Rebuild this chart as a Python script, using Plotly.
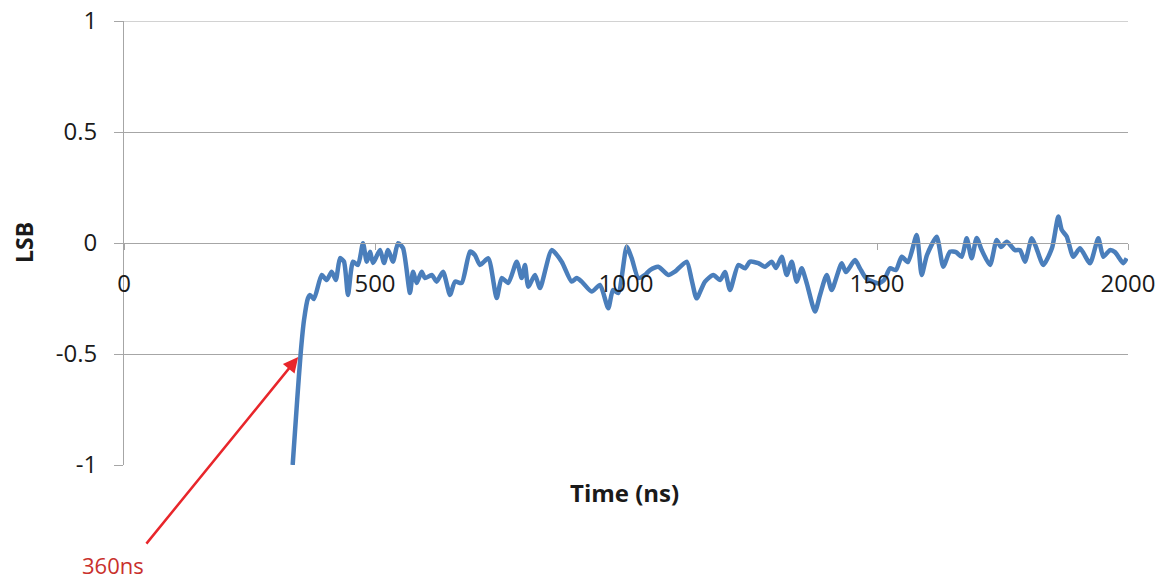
import plotly.graph_objects as go

# Time (ns) and LSB values
time_ns = [336, 345, 352, 358.6, 366.5, 370.5, 378.5, 393.8, 403.8, 413.7, 422, 430.3, 438.2, 446.2,
           456.2, 466.1, 476.1, 483.5, 490, 496, 510, 518, 526, 535.9, 545.8, 555.8, 569.7, 575.7,
           583, 593, 599.6, 613, 622.9, 635.5, 649.4, 659.4, 672.7, 689.2, 699, 709.2, 725.7, 742.4,
           752.4, 765.5, 782.3, 792.2, 798.8, 805.4, 818.7, 828.7, 852, 871.9, 891.8, 901.8, 911.8,
           931.7, 948.2, 964.7, 974, 984.7, 1001.4, 1011.4, 1024.5, 1037.8, 1047.8, 1064.3, 1084.3,
           1097.6, 1120.9, 1130.9, 1140.6, 1157.4, 1173.9, 1187.3, 1197.2, 1207.2, 1223.7, 1237,
           1247, 1263.5, 1276.9, 1290.2, 1298.8, 1310.2, 1320.1, 1330.1, 1340, 1350, 1359.9, 1376.5,
           1386.5, 1399.8, 1409.7, 1429.7, 1438.2, 1456.2, 1466.1, 1478, 1502.6, 1514, 1525.9, 1537.8,
           1549.2, 1561.8, 1579.1, 1589, 1599.6, 1618.9, 1632, 1645.4, 1657.4, 1668.7, 1678.7, 1688.6,
           1698.6, 1708.6, 1725.1, 1738.4, 1747, 1758.4, 1774.9, 1784.9, 1794.8, 1808.2, 1816.7,
           1831.3, 1848.6, 1861.2, 1868, 1877.9, 1891, 1904.4, 1924.3, 1940.8, 1950.8, 1964.1, 1974.1,
           1990.6, 1997.4]
lsb = [-1.0, -0.707, -0.495, -0.347, -0.248, -0.234, -0.252, -0.144, -0.167, -0.129, -0.167, -0.068,
       -0.084, -0.234, -0.084, -0.099, -0.001, -0.084, -0.039, -0.09, -0.032, -0.09, -0.032, -0.084,
       -0.001, -0.023, -0.225, -0.129, -0.18, -0.129, -0.158, -0.144, -0.174, -0.129, -0.234, -0.174,
       -0.18, -0.039, -0.054, -0.099, -0.069, -0.248, -0.158, -0.18, -0.084, -0.158, -0.099, -0.197,
       -0.144, -0.203, -0.032, -0.084, -0.174, -0.158, -0.174, -0.219, -0.189, -0.294, -0.212, -0.225,
       -0.017, -0.069, -0.158, -0.144, -0.122, -0.107, -0.144, -0.129, -0.084, -0.167, -0.249, -0.174,
       -0.144, -0.167, -0.131, -0.212, -0.099, -0.114, -0.084, -0.091, -0.107, -0.084, -0.113, -0.062,
       -0.144, -0.084, -0.174, -0.114, -0.18, -0.309, -0.234, -0.144, -0.212, -0.091, -0.131, -0.077,
       -0.114, -0.158, -0.182, -0.167, -0.114, -0.122, -0.062, -0.086, 0.036, -0.144, -0.054, 0.028,
       -0.107, -0.039, -0.041, -0.062, 0.021, -0.069, 0.023, -0.032, -0.099, 0.014, -0.018, 0.006,
       -0.032, -0.032, -0.084, 0.021, -0.018, -0.099, -0.023, 0.119, 0.059, 0.029, -0.062, -0.024,
       -0.091, 0.021, -0.062, -0.032, -0.041, -0.091, -0.069]

x_ticks = [0, 500, 1000, 1500, 2000]
y_ticks = [-1, -0.5, 0, 0.5, 1]
y_ticklabels = ["-1", "-0.5", "0", "0.5", "1"]
y_max = 1

arrow_x, arrow_y = 347, -0.514
arrow_label = "360ns"

FONT = "Open Sans"
FS = 24
GRID = "#a6a6a6"
TXT = "#1a1a1a"

fig = go.Figure()
fig.add_trace(go.Scatter(x=time_ns, y=lsb, mode="lines",
                         line=dict(color="#4a7ebb", width=4.5, shape="spline", smoothing=0.6),
                         showlegend=False, hoverinfo="skip"))

fig.update_layout(
    width=1165, height=580,
    margin=dict(l=116, r=45, t=13, b=123, autoexpand=False),
    paper_bgcolor="white", plot_bgcolor="white",
    font=dict(family=FONT, size=FS, color=TXT),
    xaxis=dict(range=[0, 2000], tickvals=x_ticks, ticktext=[str(v) for v in x_ticks],
               anchor="free", position=0.5, showgrid=False, zeroline=False, automargin=False,
               showline=True, linecolor=GRID, linewidth=1, ticklabeloverflow="allow",
               ticks="outside", ticklen=6, tickcolor=GRID, ticklabelstandoff=13),
    yaxis=dict(range=[-1, 1], tickvals=y_ticks, ticktext=y_ticklabels, automargin=False,
               showgrid=True, gridcolor=GRID, gridwidth=1, zeroline=False,
               showline=True, linecolor=GRID, linewidth=1, ticklabeloverflow="allow",
               ticks="outside", ticklen=9, tickcolor=GRID, ticklabelstandoff=12),
)

# top gridline (plotly omits the gridline at the plot edge)
fig.add_shape(type="line", xref="paper", yref="y", x0=0, x1=1, y0=y_max, y1=y_max,
              line=dict(color=GRID, width=1), layer="below")

fig.add_annotation(xref="paper", yref="paper", x=0.499, y=-0.061, text="<b>Time (ns)</b>",
                   showarrow=False, font=dict(family=FONT, size=FS, color=TXT),
                   xanchor="center", yanchor="middle")
fig.add_annotation(xref="paper", yref="paper", x=-0.0996, y=0.5, text="<b>LSB</b>",
                   textangle=-90, showarrow=False, font=dict(family=FONT, size=FS - 1, color=TXT),
                   xanchor="center", yanchor="middle")
fig.add_annotation(x=arrow_x, y=arrow_y, xref="x", yref="y", text="", showarrow=True,
                   ax=-153, ay=188, arrowhead=2, arrowsize=1.2, arrowwidth=2.5,
                   arrowcolor="#e8262b", standoff=0)
fig.add_annotation(xref="paper", yref="paper", x=(113 - 124) / 1004, y=(465 - 565) / 444,
                   text=arrow_label, showarrow=False,
                   font=dict(family=FONT, size=FS - 2, color="#c9302c"),
                   xanchor="center", yanchor="middle")

fig.write_html("out.html")
